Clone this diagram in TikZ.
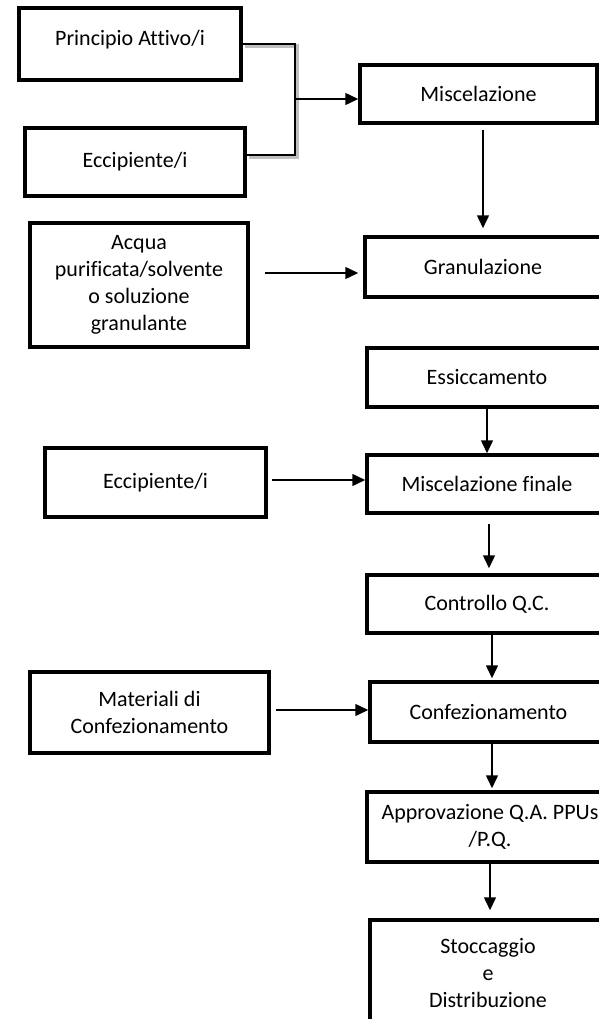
\documentclass[tikz,border=0pt]{standalone}
\usepackage{fontspec}
\setmainfont{Carlito}[Ligatures=NoCommon]
\usetikzlibrary{arrows.meta,calc}
\begin{document}
\begin{tikzpicture}[x=1pt,y=-1pt,
  box/.style={draw=black,line width=3.5pt,fill=white,rectangle,inner sep=0pt,align=center,
    font=\fontsize{22}{27}\selectfont},
  arr/.style={line width=1.5pt,-{Triangle[length=13pt,width=12pt]}},
  link/.style={line width=1.5pt},
  shade/.style={line width=3.5pt,draw=black!25}]
\useasboundingbox (0,0) rectangle (599,1019);
\clip (0,0) rectangle (599,1019);
% left inputs
\node[box,minimum width=222pt,minimum height=72pt] (pa) at (130,44) {\raisebox{13pt}{Principio Attivo/i}};
\node[box,minimum width=220pt,minimum height=68pt] (ec1) at (135,162) {Eccipiente/i};
\node[box,minimum width=218pt,minimum height=124pt] (acq) at (139,285) {Acqua\\purificata/solvente\\o soluzione\\granulante};
\node[box,minimum width=221pt,minimum height=69pt] (ec2) at (155.5,482.5) {Eccipiente/i};
\node[box,minimum width=239pt,minimum height=81pt] (mat) at (149.5,712.5) {Materiali di\\Confezionamento};
% main column
\node[box,minimum width=237pt,minimum height=58pt] (mis) at (478.5,94) {Miscelazione};
\node[box,minimum width=236pt,minimum height=60pt] (gra) at (483,267) {Granulazione};
\node[box,minimum width=240pt,minimum height=59pt] (ess) at (487,377.5) {Essiccamento};
\node[box,minimum width=240pt,minimum height=58pt] (mf) at (487,484) {Miscelazione finale};
\node[box,minimum width=240pt,minimum height=58pt] (qc) at (487,604) {Controllo Q.C.};
\node[box,minimum width=237pt,minimum height=60pt] (conf) at (488.5,712) {Confezionamento};
\node[box,minimum width=246pt,minimum height=70pt] (app) at (490,827) {Approvazione Q.A. PPUs\\/P.Q.};
\node[box,minimum width=236pt,minimum height=106pt] (sto) at (488,973) {Stoccaggio\\e\\Distribuzione};
% bracket joining the two first inputs
\coordinate (j1) at (295,44);
\coordinate (j2) at (295,155);
\coordinate (jm) at (296,99);
\draw[shade] ([shift={(2,2)}]pa.east) -- ([shift={(2,2)}]j1) -- ([shift={(2,2)}]j2) -- ([shift={(2,-5)}]ec1.east);
\draw[link] (pa.east) -- (j1) -- (j2) -- ([yshift=7pt]ec1.east);
\draw[arr] (jm) -- ([yshift=-5pt]mis.west);
% horizontal inputs
\draw[arr,shorten <=15pt,shorten >=5pt] ([yshift=12pt]acq.east) -- ([yshift=-6pt]gra.west);
\draw[arr,shorten <=4pt] ([yshift=2.5pt]ec2.east) -- ([yshift=4pt]mf.west);
\draw[arr,shorten <=5pt] ([yshift=2.5pt]mat.east) -- ([yshift=2pt]conf.west);
% vertical flow
\draw[arr,shorten <=5pt,shorten >=7pt] ([xshift=4.5pt]mis.south) -- ([xshift=4.5pt]mis.south |- gra.north);
\draw[arr] (ess.south) -- (ess.south |- mf.north);
\draw[arr,shorten <=9pt,shorten >=5pt] ([xshift=2pt]mf.south) -- ([xshift=2pt]mf.south |- qc.north);
\draw[arr,shorten >=2pt] ([xshift=5pt]qc.south) -- ([xshift=5pt]qc.south |- conf.north);
\draw[arr,shorten >=2pt] ([xshift=3.5pt]conf.south) -- ([xshift=3.5pt]conf.south |- app.north);
\draw[arr,shorten >=8pt] (app.south) -- (app.south |- sto.north);
\end{tikzpicture}
\end{document}
